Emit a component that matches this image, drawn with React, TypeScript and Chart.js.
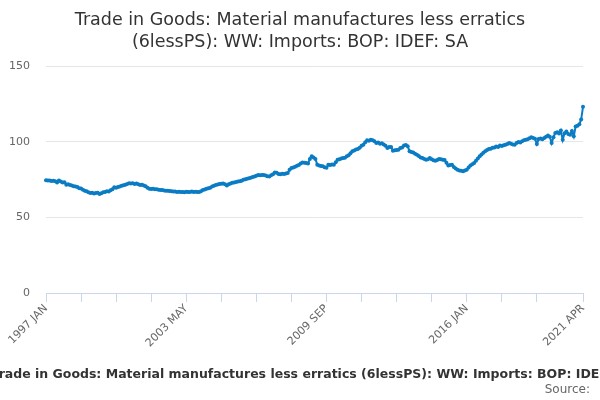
import React, { useEffect, useRef } from 'react';
import { Chart, registerables, ChartConfiguration, Plugin } from 'chart.js';
Chart.register(...registerables);

const FONT = '"DejaVu Sans", Verdana, sans-serif';

const TITLE_LINES = [
  'Trade in Goods: Material manufactures less erratics',
  '(6lessPS): WW: Imports: BOP: IDEF: SA',
];
const CAPTION = 'Trade in Goods: Material manufactures less erratics (6lessPS): WW: Imports: BOP: IDEF: SA';
const SOURCE = 'Source:';

const MONTHS = ['JAN', 'FEB', 'MAR', 'APR', 'MAY', 'JUN', 'JUL', 'AUG', 'SEP', 'OCT', 'NOV', 'DEC'];
const FIRST_YEAR = 1997;

// monthly index values, 1997 JAN .. 2021 APR
const VALUES = [
  74.5, 74.3, 74.4, 74.0, 74.2, 73.8, 73.1, 74.3, 73.6, 73.0, 73.2, 71.6,
  71.8, 71.3, 71.0, 70.6, 70.4, 70.0, 69.3, 69.0, 68.3, 67.6, 67.2, 66.5,
  66.1, 66.2, 65.8, 66.0, 66.3, 65.5, 65.9, 66.6, 66.8, 67.3, 67.0, 67.9,
  68.6, 69.8, 69.5, 70.1, 70.4, 70.9, 71.2, 71.6, 72.0, 72.6, 72.3, 72.5,
  72.1, 72.3, 71.8, 71.4, 71.6, 71.0, 70.5, 69.6, 68.9, 68.8, 68.9, 68.6,
  68.5, 68.3, 68.1, 68.0, 67.8, 67.6, 67.5, 67.4, 67.2, 67.1, 67.0, 66.8,
  66.9, 66.7, 66.8, 66.6, 66.9, 66.7, 66.8, 67.0, 66.8, 66.9, 66.7, 66.7,
  67.3, 68.1, 68.4, 68.9, 69.3, 69.6, 70.4, 70.9, 71.3, 71.7, 72.0, 72.2,
  72.3, 71.8, 71.0, 71.8, 72.3, 72.8, 73.0, 73.4, 73.6, 73.8, 74.2, 74.8,
  75.2, 75.5, 75.8, 76.2, 76.6, 76.9, 77.4, 77.9, 77.8, 78.0, 77.9, 77.6,
  77.2, 77.0, 77.8, 78.5, 79.6, 79.4, 78.6, 78.5, 78.8, 78.7, 79.0, 79.3,
  81.5, 82.6, 82.9, 83.5, 84.1, 84.6, 85.5, 86.3, 86.0, 85.9, 85.6, 88.6,
  90.3, 89.5, 88.6, 84.8, 84.2, 83.9, 83.7, 83.1, 82.8, 84.8, 84.5, 84.9,
  84.8, 86.4, 88.0, 88.3, 88.9, 89.2, 89.3, 90.3, 91.1, 92.4, 93.6, 94.2,
  94.8, 95.1, 96.0, 97.3, 98.0, 99.6, 100.9, 100.6, 101.3, 101.0, 100.2, 99.1,
  99.4, 98.7, 98.9, 98.2, 97.3, 95.8, 96.4, 96.5, 94.0, 94.3, 94.5, 94.7,
  95.8, 96.2, 97.5, 97.8, 97.0, 93.6, 93.2, 92.8, 92.0, 91.3, 90.6, 89.6,
  89.2, 88.6, 88.0, 88.4, 89.2, 88.3, 87.8, 87.4, 87.9, 88.5, 88.3, 88.0,
  87.9, 86.0, 84.3, 84.6, 84.8, 83.3, 82.3, 81.5, 81.0, 80.7, 80.4, 81.0,
  81.5, 83.0, 84.3, 85.1, 85.9, 87.4, 88.8, 90.3, 91.5, 92.6, 93.6, 94.5,
  95.2, 95.4, 96.0, 96.2, 96.8, 96.5, 97.4, 97.1, 97.6, 98.0, 98.5, 99.1,
  98.7, 98.2, 98.0, 99.1, 99.8, 99.5, 100.2, 100.9, 101.2, 101.6, 102.3, 102.9,
  102.5, 102.0, 98.5, 101.8, 102.1, 101.6, 102.4, 103.2, 104.0, 103.3, 99.1, 103.0,
  105.8, 106.2, 105.4, 107.3, 101.3, 105.5, 106.8, 105.0, 104.6, 107.0, 103.5, 110.1,
  110.6, 111.5, 114.6, 123.0,
];

const SHOWN_LABELS = ['1997 JAN', '2003 MAY', '2009 SEP', '2016 JAN', '2021 APR'];
const TICK_EVERY = 19;

const LABELS: string[] = [];
for (let i = 0; i < VALUES.length; i++) {
  LABELS.push(`${FIRST_YEAR + Math.floor(i / 12)} ${MONTHS[i % 12]}`);
}
const LAST = LABELS.length - 1;

const LINE_COLOR = '#0a7cc4';

const textPlugin: Plugin<'line'> = {
  id: 'texts',
  afterDraw(chart) {
    const { ctx } = chart;
    ctx.save();
    ctx.textBaseline = 'alphabetic';
    ctx.fillStyle = '#333333';
    ctx.textAlign = 'center';
    ctx.font = `17.5px ${FONT}`;
    TITLE_LINES.forEach((t, i) => ctx.fillText(t, 300, 25 + i * 21.5));

    ctx.font = `bold 12.5px ${FONT}`;
    ctx.textAlign = 'left';
    ctx.fillText(CAPTION, -ctx.measureText('T').width, 377.5);

    ctx.font = `12px ${FONT}`;
    ctx.fillStyle = '#666666';
    ctx.textAlign = 'right';
    ctx.fillText(SOURCE, 590, 393);
    ctx.restore();
  },
};

const App: React.FC = () => {
  const canvasRef = useRef<HTMLCanvasElement>(null);
  const chartRef = useRef<Chart | null>(null);

  useEffect(() => {
    if (!canvasRef.current) return;
    const ctx = canvasRef.current.getContext('2d');
    if (!ctx) return;

    if (chartRef.current) chartRef.current.destroy();

    const config: ChartConfiguration<'line'> = {
      type: 'line',
      data: {
        labels: LABELS,
        datasets: [
          {
            data: VALUES,
            borderColor: LINE_COLOR,
            backgroundColor: LINE_COLOR,
            borderWidth: 2,
            pointRadius: 2,
            pointBorderWidth: 0,
            pointBackgroundColor: LINE_COLOR,
            tension: 0,
          },
        ],
      },
      options: {
        animation: false,
        responsive: false,
        maintainAspectRatio: false,
        layout: { padding: { top: 66, right: 17, bottom: 0, left: 0 } },
        plugins: {
          legend: { display: false },
          tooltip: { enabled: false },
          title: { display: false },
        },
        scales: {
          x: {
            type: 'category',
            grid: {
              drawOnChartArea: false,
              tickLength: 9,
              color: (c: any) =>
                (c.index % TICK_EVERY === 0 && LAST - c.index > TICK_EVERY) || c.index === LAST
                  ? '#ccd6eb'
                  : 'rgba(0,0,0,0)',
            },
            border: { color: '#ccd6eb', width: 1 },
            ticks: {
              autoSkip: false,
              minRotation: 45,
              maxRotation: 45,
              padding: 0,
              color: '#666666',
              font: { family: FONT, size: 11 },
              callback: (_v: any, i: number) => (SHOWN_LABELS.includes(LABELS[i]) ? LABELS[i] : ''),
            },
            afterFit: (s: any) => {
              s.height = 107;
            },
          },
          y: {
            min: 0,
            max: 150,
            ticks: {
              stepSize: 50,
              padding: 16,
              color: '#666666',
              font: { family: FONT, size: 11 },
            },
            grid: { color: '#e6e6e6', drawTicks: false },
            border: { display: false },
            afterFit: (s: any) => {
              s.width = 46;
            },
          },
        },
      },
      plugins: [textPlugin],
    };

    chartRef.current = new Chart(ctx, config);

    return () => {
      if (chartRef.current) {
        chartRef.current.destroy();
        chartRef.current = null;
      }
    };
  }, []);

  return (
    <div style={{ position: 'absolute', left: 0, top: 0, width: 600, height: 400, background: '#fff' }}>
      <canvas ref={canvasRef} width={600} height={400} style={{ width: 600, height: 400 }}></canvas>
    </div>
  );
};

export default App;
